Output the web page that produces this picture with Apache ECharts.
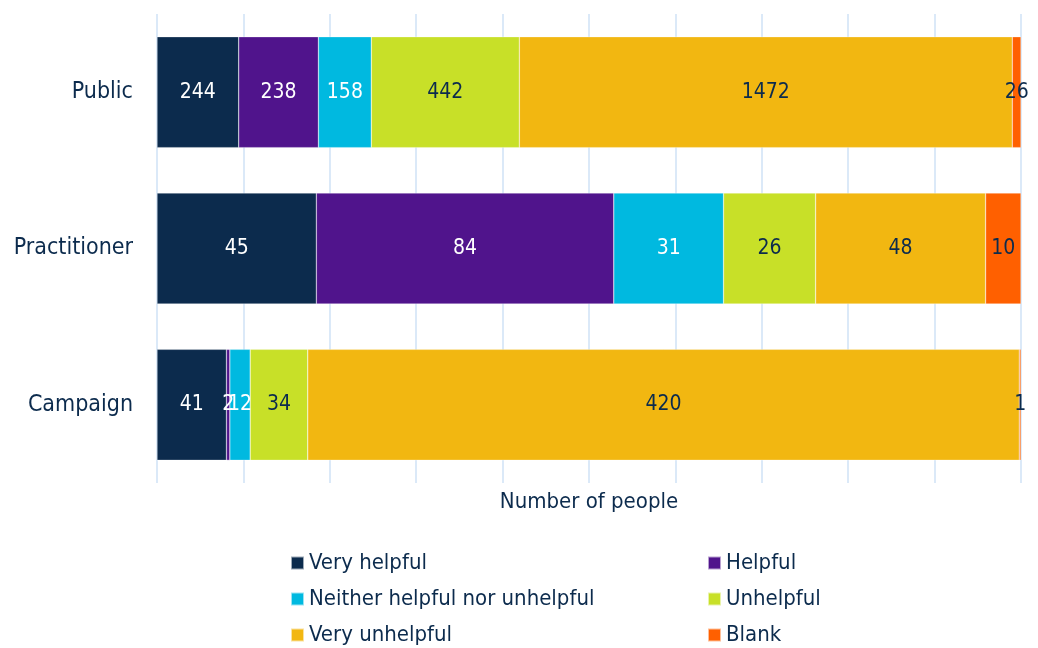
<!DOCTYPE html>
<html>
<head>
<meta charset="utf-8">
<script src="https://cdn.jsdelivr.net/npm/echarts@6/dist/echarts.min.js"></script>
<style>html,body{margin:0;padding:0;background:#fff}#c{width:1038px;height:648px}</style>
</head>
<body>
<div id="c"></div>
<script>
const categories = ['Public', 'Practitioner', 'Campaign'];
const seriesNames = ['Very helpful', 'Helpful', 'Neither helpful nor unhelpful', 'Unhelpful', 'Very unhelpful', 'Blank'];
const veryHelpful = [244, 45, 41];
const helpful = [238, 84, 2];
const neither = [158, 31, 12];
const unhelpful = [442, 26, 34];
const veryUnhelpful = [1472, 48, 420];
const blank = [26, 10, 1];

const allCounts = [veryHelpful, helpful, neither, unhelpful, veryUnhelpful, blank];
const colors = ['#0c2b4d', '#50148c', '#00b9e0', '#c8e028', '#f2b711', '#ff6000'];
const labelColors = ['#ffffff', '#ffffff', '#ffffff', '#0c2b4d', '#0c2b4d', '#0c2b4d'];
const totals = categories.map((_, i) => allCounts.reduce((s, arr) => s + arr[i], 0));
const FONT = '"DejaVu Sans Condensed", "Roboto", sans-serif';
const TEXT = '#0c2b4d';

const series = allCounts.map((arr, k) => ({
  name: seriesNames[k],
  type: 'bar',
  stack: 'total',
  barCategoryGap: '29%',
  data: arr.map((v, i) => ({ value: v / totals[i] * 100, raw: v })),
  itemStyle: { color: colors[k], borderColor: 'rgba(255,255,255,0.6)', borderWidth: 0.5 },
  label: {
    show: true,
    position: 'inside',
    color: labelColors[k],
    fontFamily: FONT,
    fontSize: 21,
    formatter: p => String(p.data.raw)
  }
}));

const legendText = { color: TEXT, fontFamily: FONT, fontSize: 22, lineHeight: 24 };
const legendCols = [290, 707];
const legendRows = [551, 587, 623];
const legends = seriesNames.map((name, k) => ({
  orient: 'horizontal',
  left: legendCols[k % 2],
  top: legendRows[Math.floor(k / 2)],
  padding: 0,
  itemWidth: 13, itemHeight: 13, icon: 'rect',
  data: [name],
  textStyle: legendText
}));

const chart = echarts.init(document.getElementById('c'));
chart.setOption({
  animation: false,
  color: colors,
  grid: { left: 157, right: 17, top: 14, bottom: 165, containLabel: false },
  xAxis: {
    type: 'value', min: 0, max: 100, interval: 10,
    name: 'Number of people', nameLocation: 'middle', nameGap: 8,
    nameTextStyle: { color: TEXT, fontFamily: FONT, fontSize: 22 },
    axisLabel: { show: false },
    axisLine: { show: false },
    axisTick: { show: false },
    splitLine: { show: true, lineStyle: { color: '#cfe2f6', width: 1.5 } }
  },
  yAxis: {
    type: 'category', data: categories, inverse: true,
    axisLine: { show: false }, axisTick: { show: false },
    axisLabel: { color: TEXT, fontFamily: FONT, fontSize: 23, margin: 24 }
  },
  legend: legends,
  series: series
});
</script>
</body>
</html>
